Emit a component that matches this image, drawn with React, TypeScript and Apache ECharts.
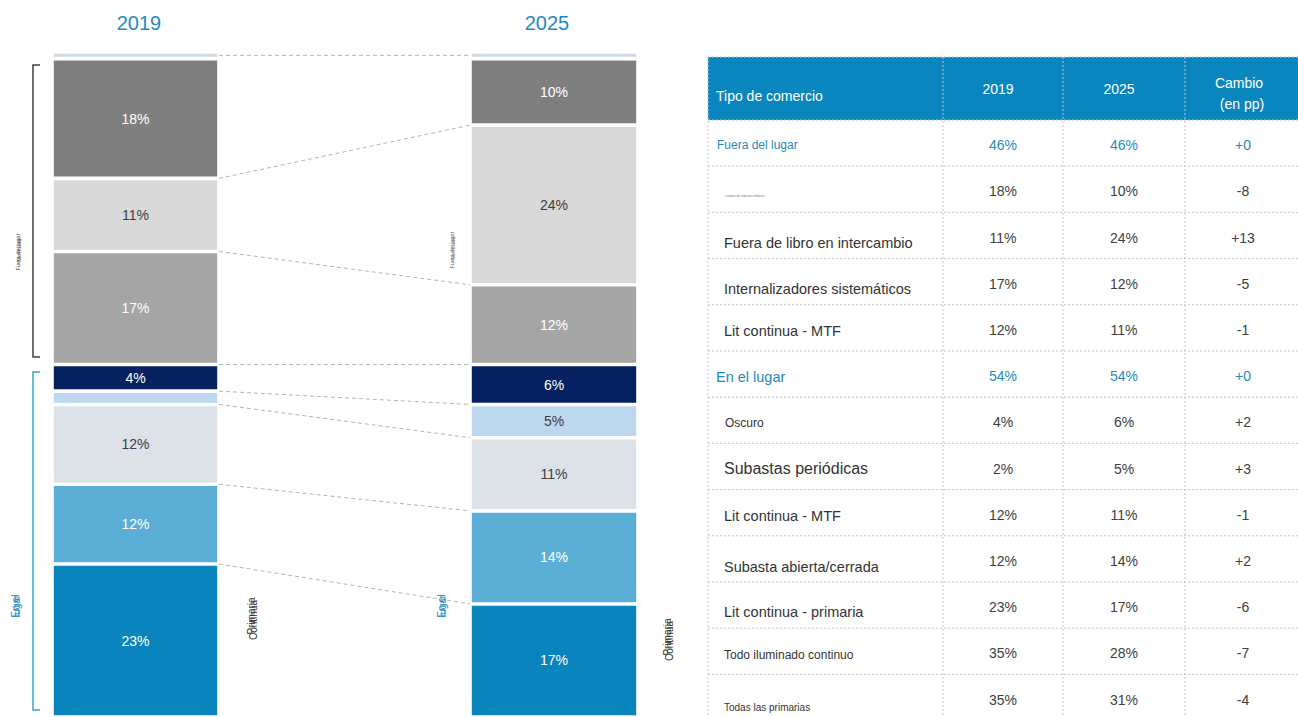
import React, { useEffect, useRef } from "react";
import * as echarts from "echarts";

// ---------- data ----------
const years = ["2019", "2025"];
const segmentNames = [
  "Lit continua - primaria",
  "Subasta abierta/cerrada",
  "Lit continua - MTF",
  "Subastas periódicas",
  "Oscuro",
  "Internalizadores sistemáticos",
  "Fuera de libro en intercambio",
  "Subastas militares",
  "Otros",
];
const values2019 = [23, 12, 12, 2, 4, 17, 11, 18, 1];
const values2025 = [17, 14, 11, 5, 6, 12, 24, 10, 1];

const headerLabels = ["Tipo de comercio", "2019", "2025", "Cambio", "(en pp)"];
const tableLabels = [
  "Fuera del lugar",
  "cuerpos de subastas militares",
  "Fuera de libro en intercambio",
  "Internalizadores sistemáticos",
  "Lit continua - MTF",
  "En el lugar",
  "Oscuro",
  "Subastas periódicas",
  "Lit continua - MTF",
  "Subasta abierta/cerrada",
  "Lit continua - primaria",
  "Todo iluminado continuo",
  "Todas las primarias",
];
const table2019 = ["46%", "18%", "11%", "17%", "12%", "54%", "4%", "2%", "12%", "12%", "23%", "35%", "35%"];
const table2025 = ["46%", "10%", "24%", "12%", "11%", "54%", "6%", "5%", "11%", "14%", "17%", "28%", "31%"];
const tableChange = ["+0", "-8", "+13", "-5", "-1", "+0", "+2", "+3", "-1", "+2", "-6", "-7", "-4"];
const sideLabels = ["Fuera del lugar", "Mercado", "En el", "lugar", "Primaria", "Continua"];

// ---------- styles ----------
const segmentColors = ["#0a84bd", "#5bafd6", "#dde2e9", "#bdd7ee", "#06215f", "#a5a5a5", "#d9d9d9", "#7f7f7f", "#cfd7e0"];
const labelColors = ["#ffffff", "#ffffff", "#404040", "#404040", "#ffffff", "#ffffff", "#404040", "#ffffff", "#404040"];
const BLUE = "#1f8ac2";
const FONT = "'Liberation Sans', Arial, sans-serif";
const rowLabelStyle: { size: number; dy: number; x: number; blue?: boolean }[] = [
  { size: 12, dy: 2, x: 717, blue: true },
  { size: 3, dy: 6, x: 725 },
  { size: 14.5, dy: 7, x: 724 },
  { size: 14.5, dy: 7, x: 724 },
  { size: 14.5, dy: 3, x: 724 },
  { size: 14.5, dy: 3, x: 716, blue: true },
  { size: 12, dy: 3, x: 725 },
  { size: 16, dy: 2, x: 724 },
  { size: 14.5, dy: 3, x: 724 },
  { size: 14.5, dy: 8, x: 724 },
  { size: 14.5, dy: 7, x: 724 },
  { size: 12, dy: 4, x: 724 },
  { size: 10, dy: 10, x: 724 },
];

function cumsum(a: number[]) {
  const out: number[] = [];
  let s = 0;
  for (const v of a) {
    s += v;
    out.push(s);
  }
  return out;
}

function buildOption() {
  const barSeries: any[] = [];
  [values2019, values2025].forEach((vals, gi) => {
    vals.forEach((v, i) => {
      barSeries.push({
        type: "bar",
        name: segmentNames[i],
        xAxisIndex: gi,
        yAxisIndex: gi,
        stack: "s" + gi,
        barWidth: "100%",
        data: [v],
        itemStyle: { color: segmentColors[i], borderColor: "#ffffff", borderWidth: 1.8 },
        label: {
          show: v >= 3,
          position: "inside",
          formatter: v + "%",
          color: labelColors[i],
          fontSize: 14,
          fontFamily: FONT,
        },
      });
    });
  });

  const c19 = cumsum(values2019);
  const c25 = cumsum(values2025);
  const n = values2019.length;
  const lineSeries: any[] = [];
  const dash = { color: "#b4b4b4", width: 1, type: [4, 3] };
  for (let k = 0; k < n - 2; k++) {
    lineSeries.push({
      type: "line",
      xAxisIndex: 2,
      yAxisIndex: 2,
      symbol: "none",
      silent: true,
      data: [
        [0, c19[k]],
        [1, c25[k]],
      ],
      lineStyle: dash,
    });
  }
  lineSeries.push({
    type: "line",
    xAxisIndex: 2,
    yAxisIndex: 2,
    symbol: "none",
    silent: true,
    data: [
      [0, (c19[n - 2] + c19[n - 1]) / 2],
      [1, (c25[n - 2] + c25[n - 1]) / 2],
    ],
    lineStyle: dash,
  });

  const gridTop = 52;
  const gridH = 666;

  // ---------- table graphics ----------
  const g: any[] = [];
  const tLeft = 708;
  const tRight = 1298;
  const headTop = 57;
  const headBottom = 120;
  const pitch = 46.2;
  const colX = [708, 943, 1063, 1185];
  const colCenters = [1003, 1124, 1243];
  g.push({ type: "rect", shape: { x: tLeft, y: headTop, width: tRight - tLeft, height: headBottom - headTop }, style: { fill: "#0a86bf" } });
  g.push({ type: "text", x: 716, y: 96, style: { text: headerLabels[0], fill: "#fff", fontSize: 14, fontFamily: FONT, verticalAlign: "middle" } });
  g.push({ type: "text", x: 998, y: 89, style: { text: headerLabels[1], fill: "#fff", fontSize: 14, fontFamily: FONT, align: "center", verticalAlign: "middle" } });
  g.push({ type: "text", x: 1119, y: 89, style: { text: headerLabels[2], fill: "#fff", fontSize: 14, fontFamily: FONT, align: "center", verticalAlign: "middle" } });
  g.push({ type: "text", x: 1239, y: 83, style: { text: headerLabels[3], fill: "#fff", fontSize: 14, fontFamily: FONT, align: "center", verticalAlign: "middle" } });
  g.push({ type: "text", x: 1242, y: 104, style: { text: headerLabels[4], fill: "#fff", fontSize: 14, fontFamily: FONT, align: "center", verticalAlign: "middle" } });

  const dotted = { stroke: "#c4c4c4", lineWidth: 1, lineDash: [2, 2] };
  g.push({ type: "line", shape: { x1: tLeft, y1: headTop, x2: tRight, y2: headTop }, style: dotted });
  for (let r = 0; r <= tableLabels.length; r++) {
    const y = headBottom + r * pitch;
    if (y < 717) g.push({ type: "line", shape: { x1: tLeft, y1: y, x2: tRight, y2: y }, style: dotted });
  }
  colX.forEach((x) => {
    g.push({ type: "line", shape: { x1: x, y1: headTop, x2: x, y2: 717 }, style: dotted });
  });

  tableLabels.forEach((lab, r) => {
    const st = rowLabelStyle[r];
    const cy = headBottom + r * pitch + pitch / 2;
    const color = st.blue ? BLUE : st.size < 5 ? "#777" : "#333333";
    g.push({ type: "text", x: st.x, y: cy + st.dy, style: { text: lab, fill: color, fontSize: st.size, fontFamily: FONT, verticalAlign: "middle" } });
    const vColor = st.blue ? BLUE : "#404040";
    [table2019[r], table2025[r], tableChange[r]].forEach((t, ci) => {
      g.push({ type: "text", x: colCenters[ci], y: cy + 2, style: { text: t, fill: vColor, fontSize: 14, fontFamily: FONT, align: "center", verticalAlign: "middle" } });
    });
  });

  // ---------- chart decorations ----------
  g.push({ type: "text", x: 139, y: 23, style: { text: years[0], fill: BLUE, fontSize: 20, fontFamily: FONT, align: "center", verticalAlign: "middle" } });
  g.push({ type: "text", x: 547, y: 23, style: { text: years[1], fill: BLUE, fontSize: 20, fontFamily: FONT, align: "center", verticalAlign: "middle" } });
  g.push({ type: "polyline", shape: { points: [[40, 65], [33, 65], [33, 357], [40, 357]] }, style: { stroke: "#404040", lineWidth: 1.5, fill: null } });
  g.push({ type: "polyline", shape: { points: [[40, 372], [33, 372], [33, 710], [40, 710]] }, style: { stroke: "#3aa2d3", lineWidth: 1.5, fill: null } });

  const rot = (x: number, y: number, text: string, size: number, fill: string) => ({
    type: "text",
    x,
    y,
    rotation: Math.PI / 2,
    style: { text, fill, fontSize: size, fontFamily: FONT, align: "center", verticalAlign: "middle" },
  });
  // overlapping tiny vertical group labels
  g.push(rot(18, 252, sideLabels[0], 5.5, "#444"));
  g.push(rot(19, 250, sideLabels[1], 6, "#555"));
  g.push(rot(452, 250, sideLabels[0], 5.5, "#666"));
  g.push(rot(453, 248, sideLabels[1], 6, "#777"));
  g.push(rot(15, 606, sideLabels[2], 10, BLUE));
  g.push(rot(16, 606, sideLabels[3], 10, BLUE));
  g.push(rot(441, 606, sideLabels[2], 10, BLUE));
  g.push(rot(442, 606, sideLabels[3], 10, BLUE));
  g.push(rot(251, 616, sideLabels[4], 10, "#333"));
  g.push(rot(253, 620, sideLabels[5], 10, "#333"));
  g.push(rot(667, 637, sideLabels[4], 10, "#333"));
  g.push(rot(669, 641, sideLabels[5], 10, "#333"));

  return {
    animation: false,
    backgroundColor: "#ffffff",
    grid: [
      { left: 52, top: gridTop, width: 167, height: gridH },
      { left: 470, top: gridTop, width: 168, height: gridH },
      { left: 219, top: gridTop, width: 251, height: gridH },
    ],
    xAxis: [
      { type: "category", gridIndex: 0, data: [years[0]], show: false },
      { type: "category", gridIndex: 1, data: [years[1]], show: false },
      { type: "value", gridIndex: 2, min: 0, max: 1, show: false },
    ],
    yAxis: [
      { type: "value", gridIndex: 0, min: 0, max: 100, show: false },
      { type: "value", gridIndex: 1, min: 0, max: 100, show: false },
      { type: "value", gridIndex: 2, min: 0, max: 100, show: false },
    ],
    series: [...barSeries, ...lineSeries],
    graphic: g,
  };
}

export default function App() {
  const ref = useRef<HTMLDivElement>(null);
  useEffect(() => {
    if (!ref.current) return;
    const chart = echarts.init(ref.current, undefined, { renderer: "svg" });
    chart.setOption(buildOption() as any);
    return () => chart.dispose();
  }, []);
  return <div ref={ref} style={{ position: "fixed", left: 0, top: 0, width: 1298, height: 717 }} />;
}
